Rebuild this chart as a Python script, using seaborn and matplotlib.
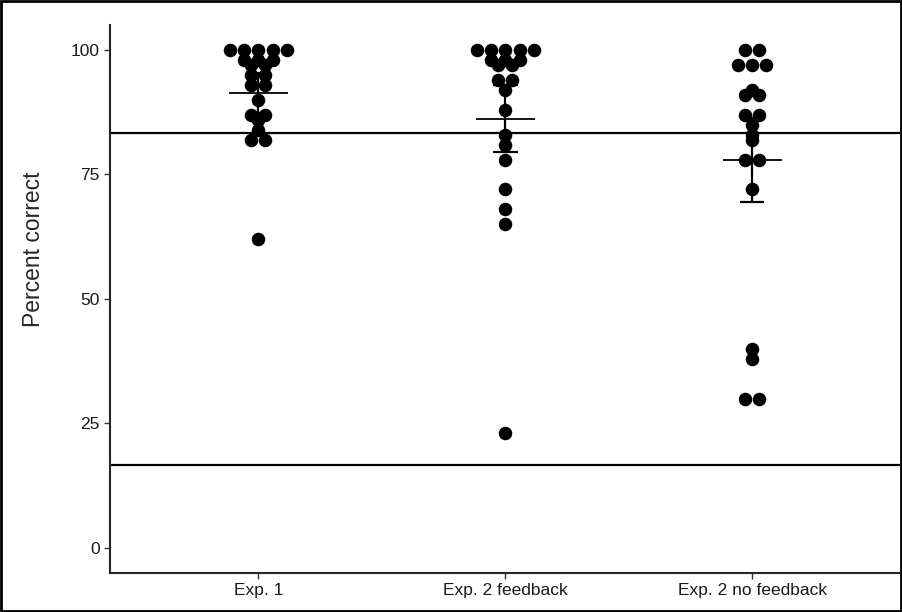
import numpy as np
import pandas as pd
import seaborn as sns
import matplotlib.pyplot as plt
from matplotlib.patches import Rectangle

# Dados
groups = ["Exp. 1", "Exp. 2 feedback", "Exp. 2 no feedback"]
exp1 = [100, 100, 100, 100, 100, 98, 98, 98, 97, 97, 95, 95, 93, 93, 90, 87, 87, 86, 84, 82, 82, 62]
exp2_fb = [100, 100, 100, 100, 100, 98, 98, 98, 97, 97, 94, 94, 92, 88, 83, 81, 78, 72, 68, 65, 23]
exp2_nofb = [100, 100, 97, 97, 97, 92, 91, 91, 87, 87, 85, 83, 82, 78, 78, 72, 40, 38, 30, 30]

# media e intervalo (linhas do grafico)
means = [91.3, 86.2, 77.9]
lower = [87.3, 79.5, 69.5]
upper = [95.3, 92.9, 86.3]

# linhas de referencia
ref_lines = [83.3, 16.7]

df = pd.DataFrame({
    "group": [groups[0]] * len(exp1) + [groups[1]] * len(exp2_fb) + [groups[2]] * len(exp2_nofb),
    "pct": exp1 + exp2_fb + exp2_nofb,
})

# empilhamento tipo dotplot (pontos iguais lado a lado, centrados)
dot_w = 0.058
df["pos"] = df["group"].map({g: i for i, g in enumerate(groups)})
df["k"] = df.groupby(["group", "pct"]).cumcount()
df["n"] = df.groupby(["group", "pct"])["pct"].transform("size")
df["x"] = df["pos"] + (df["k"] - (df["n"] - 1) / 2) * dot_w

sns.set_style("ticks")
plt.rcParams["font.family"] = ["Liberation Sans", "DejaVu Sans"]

fig = plt.figure(figsize=(9.03, 6.12), dpi=100)
ax = fig.add_axes([0.122, 0.064, 0.875, 0.895])

for r in ref_lines:
    ax.axhline(r, color="black", lw=1.6, zorder=1)

sns.scatterplot(data=df, x="x", y="pct", color="black", s=95, linewidth=0,
                ax=ax, zorder=3, legend=False)

xs = np.arange(len(groups))
ax.vlines(xs, lower, upper, color="black", lw=1.6, zorder=2)
ax.hlines(means, xs - 0.12, xs + 0.12, color="black", lw=1.3, zorder=4)
ax.hlines(lower, xs - 0.05, xs + 0.05, color="black", lw=1.6, zorder=4)
ax.hlines(upper, xs - 0.05, xs + 0.05, color="black", lw=1.6, zorder=2)

ax.set_xlim(-0.6, 2.6)
ax.set_ylim(-5, 105)
ax.set_xticks(xs)
ax.set_xticklabels(groups)
ax.set_yticks([0, 25, 50, 75, 100])
ax.set_xlabel("")
ax.set_ylabel("Percent correct", fontsize=16.5)
ax.yaxis.set_label_coords(-0.083, 0.59)
ax.tick_params(labelsize=12.5, length=4, width=1, color="#333333", labelcolor="#1a1a1a")
sns.despine(ax=ax)
for s in ["left", "bottom"]:
    ax.spines[s].set_linewidth(1.5)

fig.patches.append(Rectangle((0.001, 0.001), 0.997, 0.997, transform=fig.transFigure,
                             fill=False, edgecolor="black", lw=2))

fig.savefig("out.png", dpi=100)
